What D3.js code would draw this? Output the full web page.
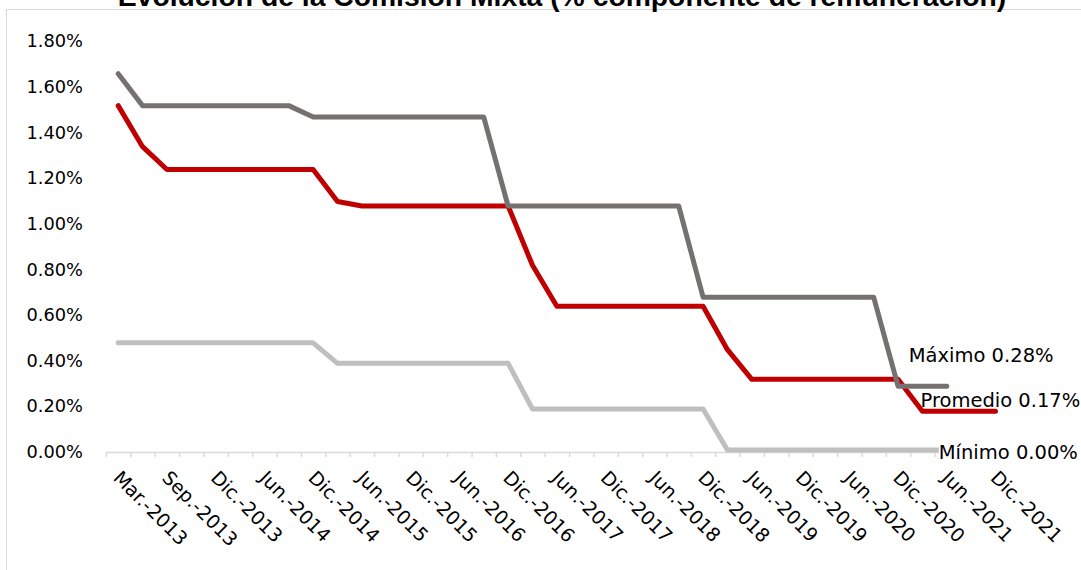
<!DOCTYPE html>
<html>
<head>
<meta charset="utf-8">
<script src="https://cdn.jsdelivr.net/npm/d3@7"></script>
<style>
  html, body { margin: 0; padding: 0; background: #ffffff; }
  svg { display: block; }
</style>
</head>
<body>
<div id="chart"></div>
<script>
// ---- Data ----
const title = "Evolución de la Comisión Mixta (% componente de remuneración)";

const categories = [
  "Mar.-2013", "Jun.-2013", "Sep.-2013", "Nov.-2013", "Dic.-2013",
  "Mar.-2014", "Jun.-2014", "Sep.-2014", "Dic.-2014",
  "Mar.-2015", "Jun.-2015", "Sep.-2015", "Dic.-2015",
  "Mar.-2016", "Jun.-2016", "Sep.-2016", "Dic.-2016",
  "Mar.-2017", "Jun.-2017", "Sep.-2017", "Dic.-2017",
  "Mar.-2018", "Jun.-2018", "Sep.-2018", "Dic.-2018",
  "Mar.-2019", "Jun.-2019", "Sep.-2019", "Dic.-2019",
  "Mar.-2020", "Jun.-2020", "Sep.-2020", "Dic.-2020",
  "Mar.-2021", "Jun.-2021", "Sep.-2021", "Dic.-2021"
];

const maximo = [
  1.65, 1.51, 1.51, 1.51, 1.51, 1.51, 1.51, 1.51,
  1.46, 1.46, 1.46, 1.46, 1.46, 1.46, 1.46, 1.46,
  1.07, 1.07, 1.07, 1.07, 1.07, 1.07, 1.07, 1.07,
  0.67, 0.67, 0.67, 0.67, 0.67, 0.67, 0.67, 0.67,
  0.28, 0.28, 0.28, null, null
];

const promedio = [
  1.51, 1.33, 1.23, 1.23, 1.23, 1.23, 1.23, 1.23, 1.23,
  1.09, 1.07, 1.07, 1.07, 1.07, 1.07, 1.07, 1.07,
  0.81, 0.63, 0.63, 0.63, 0.63, 0.63, 0.63, 0.63,
  0.44, 0.31, 0.31, 0.31, 0.31, 0.31, 0.31, 0.31,
  0.17, 0.17, 0.17, 0.17
];

const minimo = [
  0.47, 0.47, 0.47, 0.47, 0.47, 0.47, 0.47, 0.47, 0.47,
  0.38, 0.38, 0.38, 0.38, 0.38, 0.38, 0.38, 0.38,
  0.18, 0.18, 0.18, 0.18, 0.18, 0.18, 0.18, 0.18,
  0.00, 0.00, 0.00, 0.00, 0.00, 0.00, 0.00, 0.00, 0.00, 0.00,
  null, null
];

const seriesNames = ["Máximo", "Promedio", "Mínimo"];
const yTicks = [0, 0.2, 0.4, 0.6, 0.8, 1.0, 1.2, 1.4, 1.6, 1.8];

// ---- Layout / style ----
const W = 1081, H = 570;
const plot = { left: 106, right: 1007.7, top: 39.5, bottom: 450 };
const colors = { "Máximo": "#767171", "Promedio": "#C00000", "Mínimo": "#BFBFBF" };
const labelFont = "'DejaVu Sans', sans-serif";

const svg = d3.select("#chart").append("svg")
  .attr("width", W).attr("height", H);

// chart frame (extends beyond the visible window)
svg.append("rect")
  .attr("x", 6.5).attr("y", 9.5)
  .attr("width", 1200).attr("height", 700)
  .attr("fill", "#ffffff")
  .attr("stroke", "#D9D9D9").attr("stroke-width", 1);

// title (partly cut off at the top, as in the original)
svg.append("text")
  .attr("x", 562).attr("y", 6)
  .attr("text-anchor", "middle")
  .attr("font-family", "'Liberation Sans', Arial, sans-serif")
  .attr("font-weight", "bold")
  .attr("font-size", 28.3)
  .attr("fill", "#000")
  .text(title);

const n = categories.length;
const xb = d3.scaleLinear().domain([0, n]).range([plot.left, plot.right]);
const xc = i => xb(i + 0.5);
const y = d3.scaleLinear().domain([0, 1.8]).range([plot.bottom, plot.top]);

// x axis: line + ticks between categories
const xAxis = svg.append("g")
  .attr("transform", `translate(0,${plot.bottom + 2})`)
  .call(d3.axisBottom(xb).tickValues(d3.range(n + 1)).tickFormat("").tickSize(5).tickSizeOuter(0));
xAxis.select(".domain").attr("stroke", "#D9D9D9").attr("stroke-width", 1.5);
xAxis.selectAll(".tick line").attr("stroke", "#D9D9D9").attr("stroke-width", 1.5);

// x labels, every second category, rotated 45°
svg.append("g").selectAll("text")
  .data(categories.map((c, i) => ({ c, i })).filter(d => d.i % 2 === 0))
  .join("text")
  .attr("transform", d => `translate(${xc(d.i) - 6},${plot.bottom + 29}) rotate(45)`)
  .attr("font-family", labelFont)
  .attr("font-size", 19)
  .attr("fill", "#000")
  .text(d => d.c);

// y axis
const yAxis = svg.append("g")
  .attr("transform", `translate(${plot.left},0)`)
  .call(d3.axisLeft(y).tickValues(yTicks).tickFormat(d => d.toFixed(2) + "%").tickSize(0).tickPadding(23));
yAxis.select(".domain").remove();
yAxis.selectAll("text")
  .attr("font-family", labelFont)
  .attr("font-size", 17.8)
  .attr("fill", "#000")
  .attr("dy", "0.42em");

// lines
const seriesData = [
  { name: "Máximo", values: maximo },
  { name: "Promedio", values: promedio },
  { name: "Mínimo", values: minimo }
];
const line = d3.line()
  .defined(d => d != null)
  .x((d, i) => xc(i))
  .y(d => y(d));

// draw order: Mínimo, Promedio, Máximo on top
[seriesData[2], seriesData[1], seriesData[0]].forEach(s => {
  svg.append("path")
    .datum(s.values)
    .attr("d", line)
    .attr("fill", "none")
    .attr("stroke", colors[s.name])
    .attr("stroke-width", 5)
    .attr("stroke-linejoin", "round")
    .attr("stroke-linecap", "round");
});

// end labels
const labelOffsets = { "Máximo": [-38, -24], "Promedio": [-75, -4.5], "Mínimo": [-8, 8.5] };
seriesData.forEach(s => {
  let last = s.values.length - 1;
  while (s.values[last] == null) last--;
  const v = s.values[last];
  const [dx, dy] = labelOffsets[s.name];
  const g = svg.append("g");
  const t = g.append("text")
    .attr("x", xc(last) + dx)
    .attr("y", y(v) + dy)
    .attr("font-family", labelFont)
    .attr("font-size", 19.5)
    .attr("fill", "#000")
    .text(`${s.name} ${v.toFixed(2)}%`);
  if (s.name === "Mínimo") {
    const bb = t.node().getBBox();
    g.insert("rect", "text")
      .attr("x", bb.x).attr("y", bb.y + 2)
      .attr("width", bb.width).attr("height", bb.height - 4)
      .attr("fill", "#ffffff");
  }
});
</script>
</body>
</html>
